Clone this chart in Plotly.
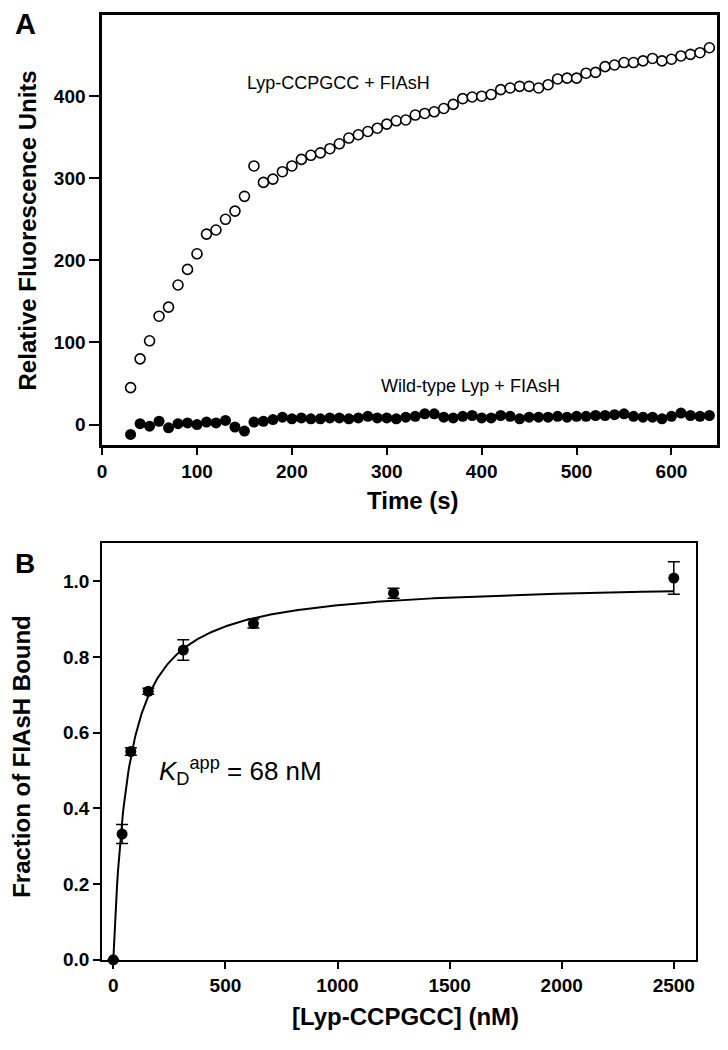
import numpy as np
import plotly.graph_objects as go

# ---------------- Panel A data ----------------
time_s = [30, 40, 50, 60, 70, 80, 90, 100, 110, 120, 130, 140, 150, 160, 170, 180,
          190, 200, 210, 220, 230, 240, 250, 260, 270, 280, 290, 300, 310, 320, 330,
          340, 350, 360, 370, 380, 390, 400, 410, 420, 430, 440, 450, 460, 470, 480,
          490, 500, 510, 520, 530, 540, 550, 560, 570, 580, 590, 600, 610, 620, 630, 640]
ccpgcc_rfu = [45, 80, 102, 132, 143, 170, 189, 208, 232, 237, 250, 260, 278, 315, 295, 299,
              308, 315, 323, 328, 331, 336, 342, 349, 353, 357, 361, 366, 370, 371, 377,
              379, 381, 385, 390, 397, 399, 400, 402, 408, 410, 412, 412, 410, 414, 421,
              422, 422, 428, 429, 436, 438, 441, 441, 443, 446, 443, 445, 449, 451, 453, 459]
wt_rfu = [-12, 1, -2, 4, -4, 1, 2, 0, 3, 2, 5, -3, -8, 3, 4, 6,
          9, 7, 8, 7, 7, 8, 8, 7, 8, 10, 8, 8, 7, 9, 10,
          13, 13, 9, 8, 10, 11, 8, 8, 11, 10, 7, 9, 9, 9, 10,
          9, 10, 10, 11, 11, 12, 13, 10, 9, 9, 7, 10, 14, 11, 10, 11]

# ---------------- Panel B data ----------------
conc_nM = [0, 39, 78, 156, 312, 625, 1250, 2500]
frac_bound = [0.0, 0.332, 0.550, 0.709, 0.818, 0.888, 0.968, 1.008]
frac_err = [0.0, 0.025, 0.010, 0.008, 0.027, 0.012, 0.013, 0.043]
KD_app = 68.0   # nM, fitted
Bmax = 1.0      # fitted plateau

xA_ticks = [0, 100, 200, 300, 400, 500, 600]
yA_ticks = [0, 100, 200, 300, 400, 500]
xB_ticks = [0, 500, 1000, 1500, 2000, 2500]
yB_ticks = [0.0, 0.2, 0.4, 0.6, 0.8, 1.0]

FONT = "Liberation Sans, Arial, Helvetica, sans-serif"
PAGE_W, PAGE_H = 728, 1050
OFF = 8  # default body margin of the page
W, H = PAGE_W - 2 * OFF, PAGE_H - 2 * OFF


def px(x):
    return min(1.0, max(0.0, (x - OFF) / W))


def py(y):
    return min(1.0, max(0.0, 1 - (y - OFF) / H))


fig = go.Figure()

# Panel A
fig.add_trace(go.Scatter(
    x=time_s, y=ccpgcc_rfu, mode="markers", xaxis="x", yaxis="y",
    marker=dict(symbol="circle", size=10, color="white",
                line=dict(color="black", width=1.6)),
    cliponaxis=False))
fig.add_trace(go.Scatter(
    x=time_s, y=wt_rfu, mode="markers", xaxis="x", yaxis="y",
    marker=dict(symbol="circle", size=11, color="black",
                line=dict(color="black", width=0)),
    cliponaxis=False))

# Panel B fit curve (hyperbolic binding fit with the fitted parameters)
fit_x = np.linspace(0, 2500, 600)
fit_y = Bmax * fit_x / (KD_app + fit_x)
fig.add_trace(go.Scatter(
    x=fit_x, y=fit_y, mode="lines", xaxis="x2", yaxis="y2",
    line=dict(color="black", width=2), cliponaxis=False))
fig.add_trace(go.Scatter(
    x=conc_nM, y=frac_bound, mode="markers", xaxis="x2", yaxis="y2",
    marker=dict(symbol="circle", size=11, color="black"),
    error_y=dict(type="data", array=frac_err, visible=True,
                 color="black", thickness=1.5, width=6),
    cliponaxis=False))

tickfont = dict(family=FONT, size=19, color="black", weight="bold")
common = dict(showline=True, linecolor="black", mirror=True, ticks="outside",
              tickcolor="black", tickwidth=2, showgrid=False, zeroline=False,
              tickfont=tickfont, ticklabeloverflow="allow")

fig.update_layout(
    width=W, height=H,
    margin=dict(l=0, r=0, t=0, b=0),
    paper_bgcolor="white", plot_bgcolor="white",
    showlegend=False,
    xaxis=dict(domain=[px(98), px(719)], range=[0, 648], anchor="y",
               tickvals=xA_ticks, ticklen=7, linewidth=2.5, **common),
    yaxis=dict(domain=[py(450), py(15)], range=[-25.3, 499], anchor="x",
               tickvals=yA_ticks, ticklen=10, linewidth=2.5, **common),
    xaxis2=dict(domain=[px(98), px(698)], range=[-50, 2600], anchor="y2",
                tickvals=xB_ticks, ticklen=7, linewidth=2, **common),
    yaxis2=dict(domain=[py(970), py(549)], range=[0, 1.1], anchor="x2",
                tickvals=yB_ticks, tickformat=".1f", ticklen=7, linewidth=2, **common),
)


def ann(text, x, y, size, bold=True, angle=0):
    fig.add_annotation(text=text, x=px(x), y=py(y), xref="paper", yref="paper",
                       xanchor="center", yanchor="middle", showarrow=False,
                       textangle=angle,
                       font=dict(family=FONT, size=size, color="black",
                                 weight="bold" if bold else "normal"))


ann("A", 21, 24, 29)
ann("B", 20, 569, 28)
ann("Relative Fluorescence Units", 23, 233, 24, angle=-90)
ann("Time (s)", 412, 506, 24)
ann("Fraction of FIAsH Bound", 17, 764, 24, angle=-90)
ann("[Lyp-CCPGCC] (nM)", 404, 1027, 24)
ann("Lyp-CCPGCC + FIAsH", 337, 84, 18, bold=False)
ann("Wild-type Lyp + FIAsH", 470, 390, 18, bold=False)
ann("<i>K</i><sub>D</sub><sup>app</sup> = 68 nM", 238, 779, 26, bold=False)

fig.write_html("out.html", config={"displayModeBar": False})
